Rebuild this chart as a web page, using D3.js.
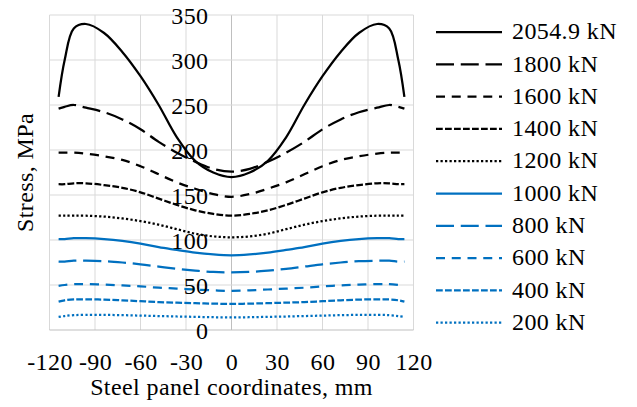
<!DOCTYPE html>
<html>
<head>
<meta charset="utf-8">
<script src="https://cdn.jsdelivr.net/npm/d3@7"></script>
</head>
<body style="margin:0">
<script>
// data (x in mm, stress in MPa)
var xs = [-114,-110,-104,-96,-84,-72,-60,-48,-36,-24,-12,0,12,24,36,48,60,72,84,96,104,110,114];
var s2054 = [259,300,335,340,330,309,282,250,214,188,175,170,175,188,214,250,282,309,330,340,335,300,259];
var s1800 = [246,248,250,247,242,234,223,209,197,187,179,176,179,187,197,209,223,234,242,247,250,248,246];
var s1600 = [197,197,197,196,193,189,182,173,164,157,151,148,151,157,164,173,182,189,193,196,197,197,197];
var s1400 = [162,162,163,163,161,158,153,146,139,133,129,127,129,133,139,146,153,158,161,163,163,162,162];
var s1200 = [127,127,127,127,126,124,121,117,112,107,104,103,104,107,112,117,121,124,126,127,127,127,127];
var s1000 = [101,101,102,102,101,99,96,92,89,86,84,83,84,86,89,92,96,99,101,102,102,101,101];
var s800  = [76,76,77,77,76.5,75,73,70.5,68,66,64.5,64,64.5,66,68,70.5,73,75,76.5,77,77,76,76];
var s600  = [49,50,51,51,50.5,49.5,48.5,47,46,45,44,43.5,44,45,46,47,48.5,49.5,50.5,51,51,50,49];
var s400  = [31.5,33,34,34,33.8,33,32,31,30.4,29.8,29.3,29,29.3,29.8,30.4,31,32,33,33.8,34,34,33,31.5];
var s200  = [14.5,15.5,16.5,16.8,16.8,16.5,16,15.5,15,14.6,14.2,14,14.2,14.6,15,15.5,16,16.5,16.8,16.8,16.5,15.5,14.5];

var names = ["2054.9 kN","1800 kN","1600 kN","1400 kN","1200 kN","1000 kN","800 kN","600 kN","400 kN","200 kN"];
var series = [s2054,s1800,s1600,s1400,s1200,s1000,s800,s600,s400,s200];
var xTicks = [-120,-90,-60,-30,0,30,60,90,120];
var yTicks = [0,50,100,150,200,250,300,350];

// excel style dash patterns
var dashes = [null,"18,6.75","9,6.75","6.75,2.25","2.25,2.25"];
var colours = ["#000000","#0070C0"];

// 24px: larger sizes fall back to a sans face here
function serifText(sel){
  sel.attr("font-family", "Liberation Serif")
    .attr("font-size", 24)
    .style("font-family", "'Liberation Serif'")
    .style("letter-spacing", "0.4px");
}

var svg = d3.select("body").append("svg")
  .attr("width", 637).attr("height", 407);

var x = d3.scaleLinear().domain([-120,120]).range([49.5,413.5]);
var y = d3.scaleLinear().domain([0,350]).range([330,15]);

//grid
svg.append("g").selectAll("line").data(xTicks).enter().append("line")
  .attr("x1", d => x(d)).attr("x2", d => x(d))
  .attr("y1", y(0)).attr("y2", y(350))
  .style("stroke", d => d === 0 ? "#bfbfbf" : "#d9d9d9").style("stroke-width", 1);
svg.append("g").selectAll("line").data(yTicks).enter().append("line")
  .attr("x1", x(-120)).attr("x2", x(120))
  .attr("y1", d => y(d)).attr("y2", d => y(d))
  .style("stroke", d => d === 0 ? "#bfbfbf" : "#d9d9d9").style("stroke-width", 1);

// lines
var line = d3.line()
  .x((d,i) => x(xs[i]))
  .y(d => y(d))
  .curve(d3.curveCatmullRom.alpha(0.5));

series.forEach(function(s, i){
  svg.append("path")
    .attr("d", line(s))
    .attr("fill", "none")
    .attr("stroke", colours[Math.floor(i/5)])
    .attr("stroke-width", 2.25)
    .attr("stroke-dasharray", dashes[i%5]);
});

// axes
var xAxis = svg.append("g")
  .attr("transform", "translate(0," + y(0) + ")")
  .call(d3.axisBottom(x).tickValues(xTicks).tickSize(0).tickFormat(d => String(d)));
xAxis.call(serifText);
xAxis.select(".domain").remove();
xAxis.selectAll("text")
  .attr("y", 40).attr("dy", null).attr("fill", "#000")
  .call(serifText);

var yAxis = svg.append("g")
  .attr("transform", "translate(" + x(0) + ",0)")
  .call(d3.axisLeft(y).tickValues(yTicks).tickSize(0));
yAxis.call(serifText);
yAxis.select(".domain").remove();
yAxis.selectAll("text")
  .attr("x", -23).attr("dy", "0.34em").attr("fill", "#000")
  .call(serifText);

// titles
svg.append("text")
  .attr("x", x(0)).attr("y", 395)
  .attr("text-anchor", "middle")
  .call(serifText)
  .text("Steel panel coordinates, mm");
svg.append("text")
  .attr("transform", "translate(33," + y(175) + ") rotate(-90)")
  .attr("text-anchor", "middle")
  .call(serifText)
  .text("Stress, MPa");

// legend
var leg = svg.append("g");
names.forEach(function(n, i){
  var ly = 32 + i*32.3;
  leg.append("line")
    .attr("x1", 436).attr("x2", 502).attr("y1", ly).attr("y2", ly)
    .attr("stroke", colours[Math.floor(i/5)])
    .attr("stroke-width", 2.25)
    .attr("stroke-dasharray", dashes[i%5]);
  leg.append("text")
    .attr("x", 512).attr("y", ly).attr("dy", "0.3em")
    .call(serifText)
    .text(n);
});
</script>
</body>
</html>
